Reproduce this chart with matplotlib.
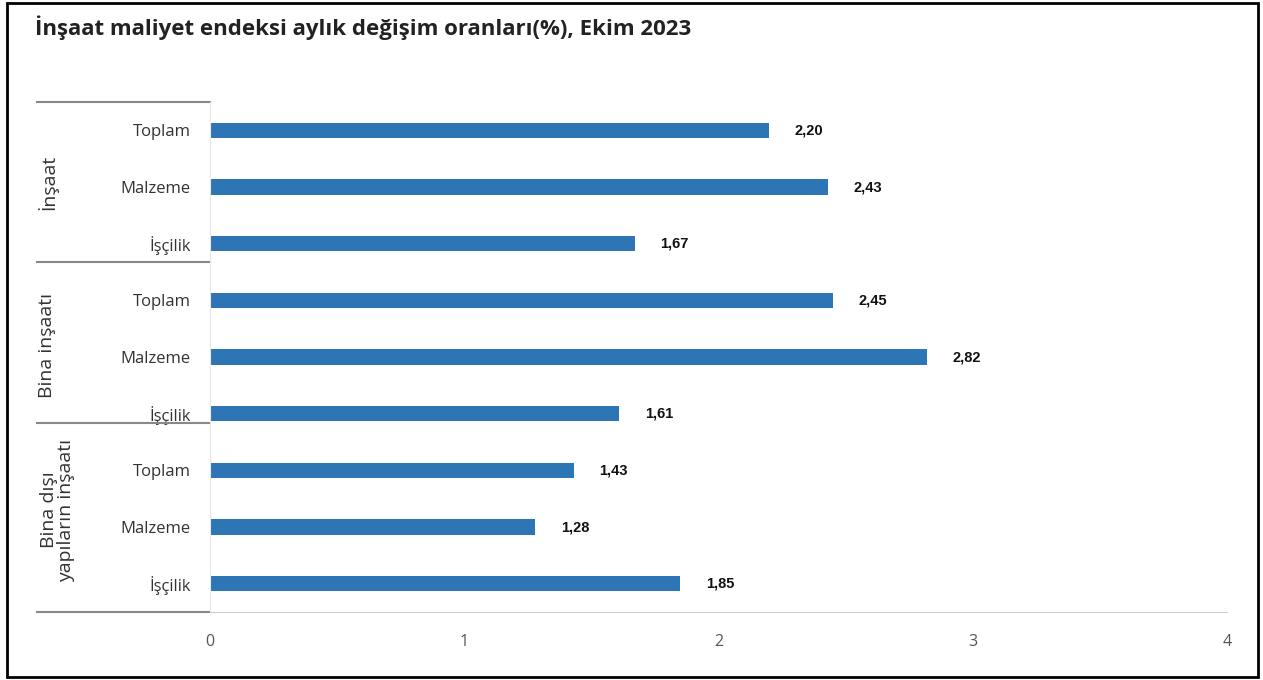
import matplotlib.pyplot as plt
from matplotlib.patches import Rectangle

plt.rcParams['font.family'] = ['Open Sans', 'DejaVu Sans']

groups = ['İnşaat', 'Bina inşaatı', 'Bina dışı\nyapıların inşaatı']
items = ['Toplam', 'Malzeme', 'İşçilik']
values = [2.20, 2.43, 1.67, 2.45, 2.82, 1.61, 1.43, 1.28, 1.85]
xticks = [0, 1, 2, 3, 4]

bar_color = '#2e75b6'

fig = plt.figure(figsize=(12.63, 6.8), dpi=100)
ax = fig.add_axes([210 / 1263, 1 - 612 / 680, 1017 / 1263, 510 / 680])

labels = items * len(groups)
ypos = list(range(len(values)))
ax.barh(ypos, values, height=0.27, color=bar_color)
ax.set_ylim(len(values) - 0.5, -0.5)
ax.set_xlim(0, 4)

for y, v in zip(ypos, values):
    ax.text(v + 0.1, y, f'{v:.2f}'.replace('.', ','), va='center', ha='left',
            fontsize=10.5, fontweight='bold', color='#111111', family=['Liberation Sans', 'DejaVu Sans'])

ax.set_yticks(ypos)
ax.set_yticklabels(labels, fontsize=12, color='#333333')
ax.tick_params(axis='y', length=0, pad=14)
ax.set_xticks(xticks)
ax.set_xticklabels([str(t) for t in xticks], fontsize=11.5, color='#555555')
ax.tick_params(axis='x', length=0, pad=16)

for s in ['top', 'right']:
    ax.spines[s].set_visible(False)
ax.spines['left'].set_color('#e6e6e6')
ax.spines['bottom'].set_color('#cccccc')

# group separators and group labels (left of axes)
for yb in [-0.5, 2.32, 5.16, 8.5]:
    ax.plot([-0.68, 0], [yb, yb], color='#888888', lw=1.5, clip_on=False)

group_y = [0.91, 3.79, 6.7]
group_x = [-0.64, -0.64, -0.6]
for g, gx, gy in zip(groups, group_x, group_y):
    ax.text(gx, gy, g, rotation=90, ha='center', va='center', fontsize=14,
            color='#333333', multialignment='center', linespacing=0.95)

fig.text(35 / 1263, 1 - 28 / 680, 'İnşaat maliyet endeksi aylık değişim oranları(%), Ekim 2023',
         fontsize=16, fontweight='bold', color='#222222', va='center', ha='left')

fig.patches.append(Rectangle((7 / 1263, 3 / 680), 1251 / 1263, 674 / 680, transform=fig.transFigure,
                             fill=False, edgecolor='black', lw=2))

fig.savefig('out.png', dpi=100)
